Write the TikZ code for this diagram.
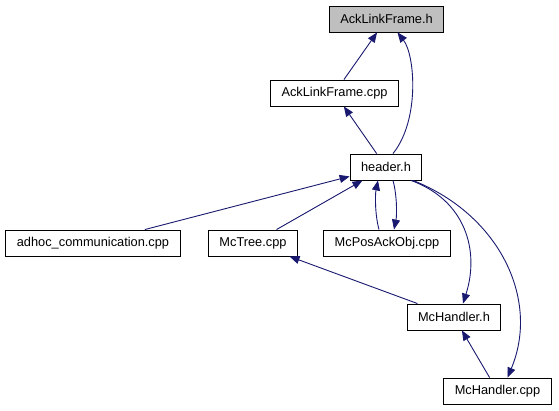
\documentclass[tikz,border=0pt]{standalone}
\usepackage{fontspec}
\setmainfont{Liberation Sans}
\usetikzlibrary{arrows.meta}
\definecolor{edgeBlue}{HTML}{191970}
\definecolor{nodeGray}{HTML}{BFBFBF}
\definecolor{borderDark}{HTML}{000000}

\begin{document}
\begin{tikzpicture}[x=1pt, y=-1pt, font=\fontsize{12.8}{15}\selectfont,
    fileBox/.style={draw=borderDark, line width=0.9pt, fill=white, minimum height=26pt, inner xsep=11pt, inner ysep=0pt},
    incl/.style={edgeBlue, line width=0.9pt, -{Triangle[length=10pt, width=8pt]}}]
  \useasboundingbox (0,0) rectangle (559,411);
  % files
  \node[fileBox, fill=nodeGray] (ackH) at (386.5,19) {AckLinkFrame.h};
  \node[fileBox] (ackCpp) at (334.5,93) {AckLinkFrame.cpp};
  \node[fileBox] (header) at (386,167) {header.h};
  \node[fileBox] (adhoc) at (93,243) {adhoc\_communication.cpp};
  \node[fileBox] (mcTree) at (253,243) {McTree.cpp};
  \node[fileBox] (mcPos) at (387,243) {McPosAckObj.cpp};
  \node[fileBox] (mcHandH) at (454,317) {McHandler.h};
  \node[fileBox] (mcHandCpp) at (497.5,391) {McHandler.cpp};
  % includes
  \draw[incl] (ackCpp) -- (ackH);
  \draw[incl] ([xshift=7pt]header.north) .. controls (420,120) and (415,55) .. ([xshift=11pt]ackH.south);
  \draw[incl] (header) -- (ackCpp);
  \draw[incl] (adhoc) -- (header);
  \draw[incl] (mcTree) -- (header);
  \draw[incl] ([xshift=-8pt]mcPos.north) .. controls (375,215) and (375,195) .. ([xshift=-8pt]header.south);
  \draw[incl] ([xshift=7pt]header.south) .. controls (397,195) and (397,215) .. ([xshift=7pt]mcPos.north);
  \draw[incl] ([xshift=25pt]header.south) .. controls (465,200) and (480,250) .. ([xshift=9pt]mcHandH.north);
  \draw[incl] ([xshift=27pt]header.south) .. controls (500,215) and (540,300) .. ([xshift=10pt]mcHandCpp.north);
  \draw[incl] (mcHandH) -- (mcTree);
  \draw[incl] (mcHandCpp) -- (mcHandH);
\end{tikzpicture}
\end{document}
